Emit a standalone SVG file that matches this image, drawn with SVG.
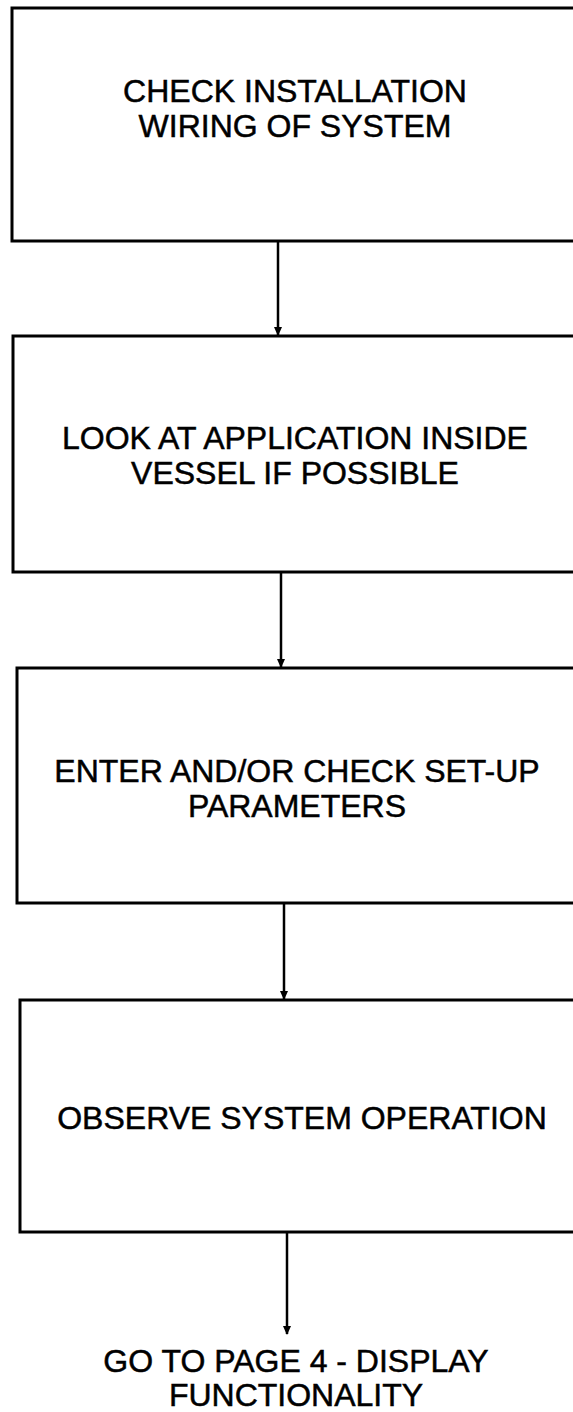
<svg xmlns="http://www.w3.org/2000/svg" width="573" height="1412" viewBox="0 0 573 1412">
  <defs>
    <style>
      .box { fill: #ffffff; stroke: #000000; stroke-width: 3; }
      .lbl { font-family: "Liberation Sans", Arial, sans-serif; font-size: 32px; fill: #000000; stroke: #000000; stroke-width: 0.5; text-anchor: middle; }
      .edge { stroke: #000000; stroke-width: 2.5; fill: none; marker-end: url(#arrow); }
    </style>
    <marker id="arrow" markerWidth="9" markerHeight="10" refX="9" refY="4.5" orient="auto" markerUnits="userSpaceOnUse" viewBox="0 0 10 9">
      <path d="M0,0 L10,4.5 L0,9 Z" fill="#000000"/>
    </marker>
  </defs>
  <rect x="0" y="0" width="573" height="1412" fill="#ffffff"/>
  <g id="connectors">
    <line class="edge" x1="278" y1="242" x2="278" y2="335"/>
    <line class="edge" x1="281" y1="573" x2="281" y2="667"/>
    <line class="edge" x1="284" y1="904" x2="284" y2="999"/>
    <line class="edge" x1="287" y1="1233" x2="287" y2="1334"/>
  </g>
  <g id="node1">
    <rect class="box" x="12" y="8" width="600" height="233"/>
    <text class="lbl" x="295" y="102">CHECK INSTALLATION</text>
    <text class="lbl" x="295" y="137">WIRING OF SYSTEM</text>
  </g>
  <g id="node2">
    <rect class="box" x="13" y="336" width="600" height="236"/>
    <text class="lbl" x="295" y="449">LOOK AT APPLICATION INSIDE</text>
    <text class="lbl" x="295" y="484">VESSEL IF POSSIBLE</text>
  </g>
  <g id="node3">
    <rect class="box" x="17" y="668" width="600" height="235"/>
    <text class="lbl" x="297" y="782">ENTER AND/OR CHECK SET-UP</text>
    <text class="lbl" x="297" y="817">PARAMETERS</text>
  </g>
  <g id="node4">
    <rect class="box" x="20" y="1000" width="600" height="232"/>
    <text class="lbl" x="302" y="1129">OBSERVE SYSTEM OPERATION</text>
  </g>
  <g id="node5">
    <text class="lbl" x="296" y="1372">GO TO PAGE 4 - DISPLAY</text>
    <text class="lbl" x="296" y="1406">FUNCTIONALITY</text>
  </g>
</svg>
